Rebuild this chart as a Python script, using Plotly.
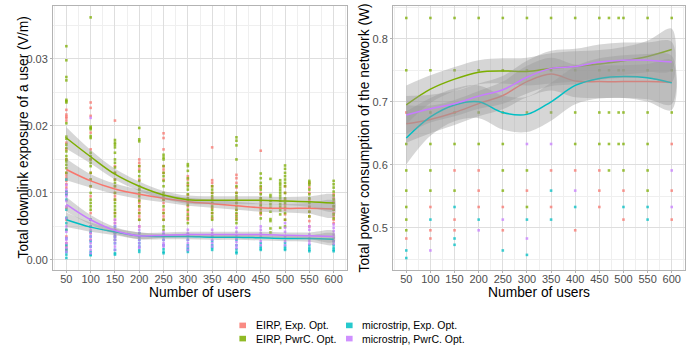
import plotly.graph_objects as go

W, H = 697, 347
FONT = "Liberation Sans, Arial, sans-serif"

series_names = ["EIRP, Exp. Opt.", "EIRP, PwrC. Opt.", "microstrip, Exp. Opt.", "microstrip, PwrC. Opt."]
series_colors = ["#F8766D", "#7CAE00", "#00BFC4", "#C77CFF"]

user_ticks = [50, 100, 150, 200, 250, 300, 350, 400, 450, 500, 550, 600]

# ---------------- Left panel: exposure (V/m) scatter points ----------------
exposure_eirp_exp = {
    50: [0.0224, 0.0217, 0.0214, 0.0212, 0.0208, 0.0175, 0.0165, 0.0150, 0.0130, 0.0126, 0.0122, 0.0118,
         0.0113, 0.0108, 0.0102, 0.0098, 0.0078, 0.0060, 0.0045, 0.0035, 0.0025, 0.0020, 0.0015],
    100: [0.0235, 0.0227, 0.0215, 0.0190, 0.0165, 0.0150, 0.0130, 0.0120, 0.0110, 0.0095, 0.0070, 0.0060,
          0.0050, 0.0040, 0.0030],
    150: [0.0208, 0.0140, 0.0130, 0.0120, 0.0110, 0.0100, 0.0095, 0.0090, 0.0070, 0.0060, 0.0055, 0.0045,
          0.0040, 0.0035, 0.0030],
    200: [0.0150, 0.0145, 0.0140, 0.0135, 0.0120, 0.0105, 0.0090, 0.0085, 0.0080, 0.0075, 0.0070, 0.0065,
          0.0060, 0.0050],
    250: [0.0189, 0.0182, 0.0165, 0.0140, 0.0135, 0.0130, 0.0120, 0.0090, 0.0085, 0.0075, 0.0070, 0.0065, 0.0060],
    300: [0.0125, 0.0120, 0.0112, 0.0097, 0.0090, 0.0085, 0.0080, 0.0072, 0.0065, 0.0060],
    350: [0.0168, 0.0119, 0.0115, 0.0110, 0.0100, 0.0092, 0.0085, 0.0078, 0.0070, 0.0062],
    400: [0.0127, 0.0122, 0.0115, 0.0108, 0.0100, 0.0092, 0.0085, 0.0075, 0.0068, 0.0062],
    450: [0.0163, 0.0108, 0.0100, 0.0092, 0.0085, 0.0080, 0.0072, 0.0068],
    500: [0.0110, 0.0100, 0.0090, 0.0082, 0.0075, 0.0068, 0.0060],
    550: [0.0115, 0.0108, 0.0100, 0.0090, 0.0080, 0.0072, 0.0065, 0.0058, 0.0050],
    600: [0.0098, 0.0092, 0.0086, 0.0080, 0.0075, 0.0070, 0.0065, 0.0060, 0.0055],
}
exposure_eirp_pwrc = {
    50: [0.0319, 0.0298, 0.0273, 0.0268, 0.0239, 0.0237, 0.0235, 0.0204, 0.0184, 0.0181, 0.0172, 0.0167,
         0.0162, 0.0155, 0.0150, 0.0147, 0.0142, 0.0137, 0.0130],
    100: [0.0362, 0.0199, 0.0197, 0.0195, 0.0185, 0.0182, 0.0160, 0.0155, 0.0150, 0.0145, 0.0140, 0.0130,
          0.0120, 0.0110, 0.0100, 0.0090, 0.0085, 0.0080, 0.0075],
    150: [0.0179, 0.0175, 0.0172, 0.0168, 0.0160, 0.0150, 0.0145, 0.0138, 0.0130, 0.0120, 0.0115, 0.0110,
          0.0100, 0.0090, 0.0085, 0.0080, 0.0075, 0.0070, 0.0065],
    200: [0.0197, 0.0180, 0.0177, 0.0140, 0.0132, 0.0125, 0.0118, 0.0110, 0.0105, 0.0100, 0.0095, 0.0088,
          0.0080, 0.0070, 0.0060],
    250: [0.0157, 0.0153, 0.0150, 0.0140, 0.0130, 0.0125, 0.0118, 0.0110, 0.0100, 0.0095, 0.0090, 0.0080,
          0.0070, 0.0060, 0.0050, 0.0045],
    300: [0.0143, 0.0140, 0.0133, 0.0122, 0.0115, 0.0110, 0.0105, 0.0098, 0.0092, 0.0088, 0.0082, 0.0075,
          0.0068, 0.0062, 0.0055],
    350: [0.0110, 0.0105, 0.0100, 0.0095, 0.0090, 0.0085, 0.0080, 0.0075, 0.0070, 0.0065, 0.0060],
    400: [0.0183, 0.0178, 0.0171, 0.0150, 0.0110, 0.0100, 0.0095, 0.0090, 0.0085, 0.0080, 0.0075, 0.0070,
          0.0065, 0.0060, 0.0055],
    450: [0.0129, 0.0122, 0.0115, 0.0110, 0.0105, 0.0098, 0.0092, 0.0088, 0.0082, 0.0076, 0.0070, 0.0062],
    470: [0.0121, 0.0097, 0.0094, 0.0088, 0.0083, 0.0078, 0.0072, 0.0061, 0.0058, 0.0047, 0.0041],
    490: [0.0119, 0.0115, 0.0112, 0.0108, 0.0104, 0.0100, 0.0096, 0.0092, 0.0088, 0.0083, 0.0079, 0.0074,
          0.0068, 0.0048],
    500: [0.0141, 0.0136, 0.0130, 0.0125, 0.0120, 0.0115, 0.0110, 0.0100, 0.0092, 0.0085, 0.0078, 0.0070,
          0.0060, 0.0050],
    550: [0.0118, 0.0115, 0.0112, 0.0105, 0.0098, 0.0092, 0.0085, 0.0078, 0.0072, 0.0065],
    600: [0.0118, 0.0113, 0.0108, 0.0102, 0.0096, 0.0090, 0.0085, 0.0080, 0.0075, 0.0068, 0.0062],
}
exposure_micro_exp = {
    50: [0.0120, 0.0102, 0.0098, 0.0090, 0.0075, 0.0063, 0.0055, 0.0045, 0.0032, 0.0022, 0.0016, 0.0012,
         0.0008, 0.0003],
    100: [0.0060, 0.0050, 0.0042, 0.0035, 0.0028, 0.0020, 0.0012, 0.0008, 0.0007],
    150: [0.0050, 0.0040, 0.0035, 0.0030, 0.0025, 0.0015, 0.0010, 0.0008],
    200: [0.0040, 0.0035, 0.0030, 0.0025, 0.0020, 0.0015, 0.0012],
    250: [0.0038, 0.0030, 0.0022, 0.0016, 0.0012, 0.0010],
    300: [0.0038, 0.0030, 0.0022, 0.0018, 0.0015, 0.0012],
    350: [0.0035, 0.0028, 0.0022, 0.0018, 0.0015],
    400: [0.0030, 0.0022, 0.0016, 0.0012, 0.0010],
    450: [0.0025, 0.0020, 0.0017, 0.0015],
    500: [0.0025, 0.0020, 0.0017, 0.0015],
    550: [0.0022, 0.0018, 0.0015, 0.0013],
    600: [0.0028, 0.0022, 0.0018, 0.0015, 0.0013],
}
exposure_micro_pwrc = {
    50: [0.0112, 0.0105, 0.0100, 0.0095, 0.0088, 0.0080, 0.0062, 0.0050, 0.0042, 0.0033, 0.0030, 0.0025,
         0.0018, 0.0012],
    100: [0.0212, 0.0060, 0.0050, 0.0045, 0.0040, 0.0035, 0.0030, 0.0025, 0.0020, 0.0015, 0.0010],
    150: [0.0060, 0.0055, 0.0050, 0.0045, 0.0040, 0.0035, 0.0030, 0.0025, 0.0020, 0.0015],
    200: [0.0050, 0.0045, 0.0040, 0.0035, 0.0030, 0.0025, 0.0020, 0.0018],
    250: [0.0042, 0.0038, 0.0035, 0.0030, 0.0025, 0.0022, 0.0020],
    300: [0.0045, 0.0040, 0.0035, 0.0030, 0.0025, 0.0020, 0.0015],
    350: [0.0045, 0.0040, 0.0035, 0.0030, 0.0025, 0.0020],
    400: [0.0048, 0.0042, 0.0037, 0.0032, 0.0027, 0.0022, 0.0018],
    450: [0.0050, 0.0045, 0.0040, 0.0035, 0.0028, 0.0022],
    500: [0.0055, 0.0048, 0.0042, 0.0035, 0.0028, 0.0022],
    550: [0.0050, 0.0045, 0.0038, 0.0032, 0.0028, 0.0024],
    600: [0.0053, 0.0048, 0.0043, 0.0038, 0.0033, 0.0028, 0.0024],
}

# Left panel smooth fits and their standard-error half widths
fit_x = [50, 100, 150, 200, 250, 300, 350, 400, 450, 500, 550, 600]
exp_fit_eirp_exp = [0.0135, 0.0118, 0.0106, 0.0098, 0.0092, 0.0087, 0.0084, 0.0081, 0.0078, 0.0077, 0.0077, 0.0076]
exp_fit_eirp_pwrc = [0.0182, 0.0154, 0.0128, 0.0110, 0.0097, 0.0090, 0.0089, 0.0089, 0.0089, 0.0088, 0.0087, 0.0085]
exp_fit_micro_exp = [0.0060, 0.0049, 0.0042, 0.0036, 0.0035, 0.0035, 0.0034, 0.0034, 0.0033, 0.0032, 0.0032, 0.0031]
exp_fit_micro_pwrc = [0.0083, 0.0060, 0.0044, 0.0036, 0.0037, 0.0038, 0.0038, 0.0038, 0.0038, 0.0037, 0.0036, 0.0035]
exp_se_eirp = [0.0016, 0.0010, 0.0008, 0.0007, 0.0006, 0.0006, 0.0006, 0.0006, 0.0006, 0.0006, 0.0008, 0.0012]
exp_se_micro = [0.0011, 0.0007, 0.0005, 0.0005, 0.0004, 0.0004, 0.0004, 0.0004, 0.0004, 0.0004, 0.0005, 0.0008]

# ---------------- Right panel: power consumption (W) scatter points ----------------
power_eirp_exp = {50: [0.683, 0.483], 100: [0.533, 0.496, 0.483], 150: [0.591, 0.513, 0.496],
                  200: [0.591, 0.559, 0.533], 250: [0.533, 0.496], 300: [0.559], 350: [0.591, 0.533],
                  400: [0.591, 0.496], 450: [0.591, 0.559, 0.533], 500: [0.559, 0.513],
                  600: [0.633, 0.559, 0.513]}
power_eirp_pwrc = {50: [0.833, 0.75, 0.633, 0.591, 0.559, 0.533, 0.513, 0.496],
                   100: [0.833, 0.75, 0.683, 0.633, 0.591, 0.559], 150: [0.833, 0.75, 0.683, 0.633, 0.559],
                   200: [0.833, 0.75, 0.683, 0.633], 250: [0.833, 0.75, 0.683, 0.633, 0.591, 0.559],
                   300: [0.833, 0.75, 0.683, 0.591, 0.533], 350: [0.833, 0.75, 0.683],
                   400: [0.833, 0.75, 0.683, 0.633], 450: [0.833, 0.75, 0.683, 0.633],
                   470: [0.833, 0.75, 0.683, 0.633, 0.591], 490: [0.833, 0.75, 0.683, 0.633],
                   500: [0.833, 0.75, 0.683, 0.633, 0.591], 550: [0.833, 0.75, 0.683, 0.633, 0.591, 0.559],
                   600: [0.833, 0.75, 0.683]}
power_micro_exp = {50: [0.464, 0.452], 100: [0.513], 150: [0.533, 0.483, 0.473], 200: [0.513], 250: [0.464],
                   300: [0.513, 0.457], 350: [0.559, 0.513], 400: [0.533], 500: [0.533], 550: [0.533, 0.513]}
power_micro_pwrc = {100: [0.464], 200: [0.496], 250: [0.513], 300: [0.633, 0.483], 350: [0.633],
                    400: [0.559], 600: [0.591, 0.533]}

pow_fit_eirp_exp = [0.665, 0.672, 0.683, 0.697, 0.710, 0.732, 0.744, 0.733, 0.732, 0.732, 0.732, 0.731]
pow_fit_eirp_pwrc = [0.695, 0.720, 0.736, 0.747, 0.749, 0.748, 0.753, 0.756, 0.760, 0.765, 0.772, 0.783]
pow_fit_micro_exp = [0.6425, 0.676, 0.695, 0.700, 0.683, 0.680, 0.700, 0.726, 0.737, 0.740, 0.738, 0.730]
pow_fit_micro_pwrc = [0.679, 0.689, 0.697, 0.709, 0.719, 0.739, 0.753, 0.756, 0.763, 0.766, 0.766, 0.763]
pow_se_eirp_exp = [0.030, 0.022, 0.020, 0.020, 0.022, 0.025, 0.026, 0.026, 0.026, 0.026, 0.028, 0.035]
pow_se_eirp_pwrc = [0.031, 0.022, 0.019, 0.019, 0.020, 0.022, 0.024, 0.024, 0.022, 0.022, 0.025, 0.033]
pow_se_micro_exp = [0.042, 0.030, 0.026, 0.026, 0.027, 0.028, 0.030, 0.030, 0.032, 0.034, 0.038, 0.043]
pow_se_micro_pwrc = [0.030, 0.022, 0.020, 0.020, 0.022, 0.026, 0.028, 0.028, 0.028, 0.028, 0.028, 0.032]

# ---------------- Build figure ----------------
fig = go.Figure()

def add_points(data, color, xa, ya):
    xs, ys = [], []
    for xv, vals in data.items():
        for v in vals:
            xs.append(xv)
            ys.append(v)
    fig.add_trace(go.Scatter(x=xs, y=ys, mode="markers", xaxis=xa, yaxis=ya, showlegend=False,
                             hoverinfo="skip",
                             marker=dict(symbol="square", size=2.6, color=color, opacity=0.75,
                                         line=dict(width=0))))

def add_smooth(fit, se, color, xa, ya):
    upper = [f + s for f, s in zip(fit, se)]
    lower = [f - s for f, s in zip(fit, se)]
    fig.add_trace(go.Scatter(x=fit_x + fit_x[::-1], y=upper + lower[::-1], mode="lines", fill="toself",
                             fillcolor="rgba(153,153,153,0.4)", line=dict(width=0, shape="spline"),
                             xaxis=xa, yaxis=ya, showlegend=False, hoverinfo="skip"))
    fig.add_trace(go.Scatter(x=fit_x, y=fit, mode="lines", line=dict(color=color, width=1.5, shape="spline"),
                             xaxis=xa, yaxis=ya, showlegend=False))

left_points = [exposure_eirp_exp, exposure_eirp_pwrc, exposure_micro_exp, exposure_micro_pwrc]
right_points = [power_eirp_exp, power_eirp_pwrc, power_micro_exp, power_micro_pwrc]
for data, col in zip(left_points, series_colors):
    add_points(data, col, "x", "y")
for data, col in zip(right_points, series_colors):
    add_points(data, col, "x2", "y2")

left_fits = [exp_fit_eirp_exp, exp_fit_eirp_pwrc, exp_fit_micro_exp, exp_fit_micro_pwrc]
left_ses = [exp_se_eirp, exp_se_eirp, exp_se_micro, exp_se_micro]
for fit, se, col in zip(left_fits, left_ses, series_colors):
    add_smooth(fit, se, col, "x", "y")

right_fits = [pow_fit_eirp_exp, pow_fit_eirp_pwrc, pow_fit_micro_exp, pow_fit_micro_pwrc]
right_ses = [pow_se_eirp_exp, pow_se_eirp_pwrc, pow_se_micro_exp, pow_se_micro_pwrc]
for fit, se, col in zip(right_fits, right_ses, series_colors):
    add_smooth(fit, se, col, "x2", "y2")

# plot-area geometry in pixels (paper coordinates span the area inside the margins)
ML, MR, MT, MB = 53, 12, 6, 77
PW, PH = W - ML - MR, H - MT - MB

def px_x(p):
    return (p - ML) / PW

def px_y(p):
    return 1 - (p - MT) / PH

grid_major = "#DEDEDE"
grid_minor = "#EFEFEF"
border = "#B3B3B3"
tickfont = dict(family=FONT, size=11, color="#4D4D4D")
titlefont = dict(family=FONT, size=13.8, color="#000000")

xcommon = dict(tickmode="array", tickvals=user_ticks, ticktext=[str(v) for v in user_ticks],
               range=[22.5, 627.5], showgrid=True, gridcolor=grid_major, gridwidth=1,
               minor=dict(tickmode="array", tickvals=[25 + 50 * i for i in range(13)], showgrid=True,
                          gridcolor=grid_minor, gridwidth=1),
               showline=True, mirror=True, linecolor=border, linewidth=1,
               ticks="outside", ticklen=2, tickcolor=border, tickwidth=1, ticklabelstandoff=-3,
               tickfont=tickfont, zeroline=False,
               title=dict(text="Number of users", font=titlefont, standoff=1))

ycommon = dict(domain=[0, 1], showgrid=True, gridcolor=grid_major, gridwidth=1, zeroline=False,
               showline=True, mirror=True, linecolor=border, linewidth=1,
               ticks="outside", ticklen=2, tickcolor=border, tickwidth=1, tickfont=tickfont)

fig.update_layout(
    width=W, height=H,
    margin=dict(l=ML, r=MR, t=MT, b=MB, autoexpand=False),
    paper_bgcolor="white", plot_bgcolor="white",
    font=dict(family=FONT),
    showlegend=False,
    xaxis=dict(domain=[0, px_x(347)], anchor="y", **xcommon),
    xaxis2=dict(domain=[px_x(393), 1], anchor="y2", **xcommon),
    yaxis=dict(anchor="x", range=[-0.0015, 0.0379],
               tickmode="array", tickvals=[0, 0.01, 0.02, 0.03], ticktext=["0.00", "0.01", "0.02", "0.03"],
               minor=dict(tickmode="array", tickvals=[0.005, 0.015, 0.025, 0.035], showgrid=True,
                          gridcolor=grid_minor, gridwidth=1), **ycommon),
    yaxis2=dict(anchor="x2", range=[0.433, 0.852],
                tickmode="array", tickvals=[0.5, 0.6, 0.7, 0.8], ticktext=["0.5", "0.6", "0.7", "0.8"],
                minor=dict(tickmode="array", tickvals=[0.45, 0.55, 0.65, 0.75, 0.85], showgrid=True,
                           gridcolor=grid_minor, gridwidth=1), **ycommon),
)

annotations = []
shapes = []
# y-axis titles, placed as in the reference
for text, cx in [("Total downlink exposure of a user (V/m)", 22.5),
                 ("Total power consumption of the network (W)", 363.5)]:
    annotations.append(dict(xref="paper", yref="paper", x=px_x(cx), y=px_y(138), text=text,
                            textangle=-90, showarrow=False, xanchor="center", yanchor="middle",
                            font=titlefont))

# Legend (ggplot-style 2x2 key block at the bottom): one text block per key column
legend_cols = [(242.7, [0, 1]), (349.3, [2, 3])]
row_y = [325.4, 338.6]
for cx, idxs in legend_cols:
    for ry, i in zip(row_y, idxs):
        shapes.append(dict(type="rect", xref="paper", yref="paper",
                           x0=px_x(cx - 3.3), x1=px_x(cx + 3.3), y0=px_y(ry + 2.8), y1=px_y(ry - 2.8),
                           fillcolor=series_colors[i], opacity=0.85, line=dict(width=0)))
    annotations.append(dict(xref="paper", yref="paper", x=px_x(cx + 11), y=px_y(sum(row_y) / 2),
                            text="<br>".join(series_names[i] for i in idxs),
                            showarrow=False, xanchor="left", yanchor="middle", align="left",
                            font=dict(family=FONT, size=10.5, color="#000000")))
fig.update_layout(shapes=shapes, annotations=annotations)

fig.write_html("out.html")
